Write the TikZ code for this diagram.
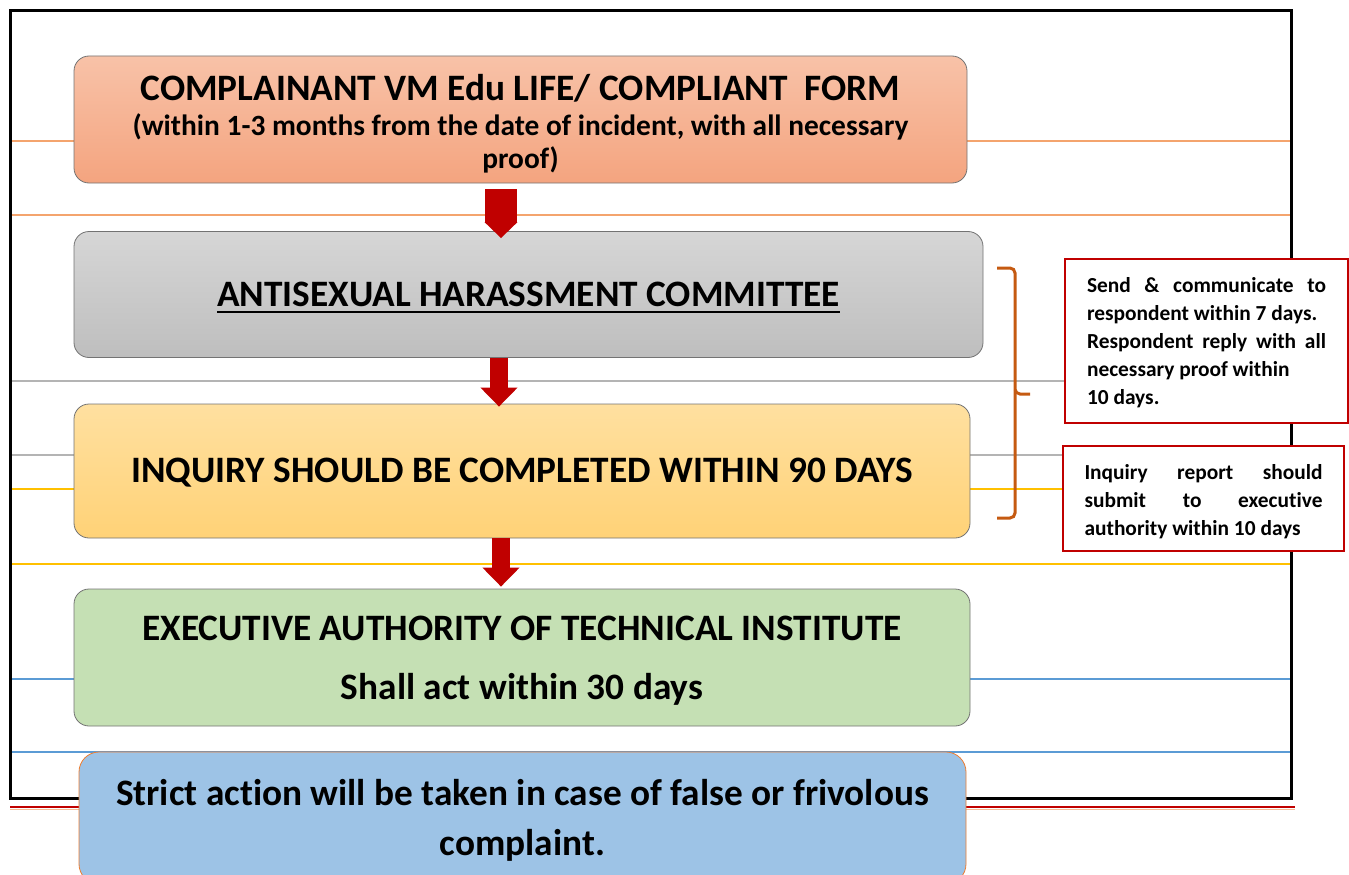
\documentclass[tikz,border=0pt]{standalone}
\usepackage{fontspec}
\setmainfont{Carlito}[Ligatures=NoCommon]
\newsavebox\myulbox
\newcommand{\myul}[1]{\sbox\myulbox{#1}\rlap{\rule[-7pt]{\wd\myulbox}{2pt}}\usebox\myulbox}
\usetikzlibrary{arrows.meta,calc}
\definecolor{arrred}{HTML}{C00000}
\definecolor{lorange}{HTML}{F4A46E}
\definecolor{lgray}{HTML}{B4B4B4}
\definecolor{lyellow}{HTML}{FFC000}
\definecolor{lblue}{HTML}{5B9BD5}
\definecolor{oneT}{HTML}{F8C2A8}
\definecolor{oneB}{HTML}{F4A47F}
\definecolor{twoT}{HTML}{D6D6D6}
\definecolor{twoB}{HTML}{BEBEBE}
\definecolor{thrT}{HTML}{FFE0A0}
\definecolor{thrB}{HTML}{FFD277}
\definecolor{fourF}{HTML}{C5E0B4}
\definecolor{fiveF}{HTML}{9DC3E6}
\definecolor{fiveD}{HTML}{ED7D31}
\definecolor{bracec}{HTML}{C55A11}
\tikzset{
  flowbox/.style={rounded corners=15pt, draw=black!55, line width=0.8pt, inner sep=0pt},
  boxtext/.style={align=center, inner sep=0pt},
  rbox/.style={draw=arrred, line width=2.5pt, fill=white, inner sep=0pt},
  rtext/.style={inner sep=0pt, align=left, font=\bfseries\fontsize{21.4}{28}\selectfont},
  guide/.style={line width=1.3pt},
  widearr/.style={arrred, line width=32pt, -{Triangle[width=32pt,length=16pt]}},
  slimarr/.style={arrred, line width=18pt, -{Triangle[width=36pt,length=19pt]}},
  bracestyle/.style={bracec, line width=3pt, rounded corners=5pt}
}
\begin{document}
\begin{tikzpicture}[x=1pt,y=-1pt]
\useasboundingbox (0,0) rectangle (1349,875);
\clip (0,0) rectangle (1349,875);
% guide lines
\foreach \yy/\cc in {141/lorange,215/lorange,381/lgray,455/lgray,489/lyellow,564/lyellow,679/lblue,752/lblue}
  \draw[guide,\cc] (10,\yy) -- (1290,\yy);
% frame
\draw[line width=3pt] (10,11) rectangle (1291,798);
\draw[arrred, line width=2pt] (10,807) -- (1295,807);
\draw[fiveD!50, line width=1pt] (10,809.5) -- (1295,809.5);
% boxes
\node[flowbox, top color=oneT, bottom color=oneB, minimum width=893pt, minimum height=127pt] (b1) at (520.5,119.5) {};
\node[boxtext, font=\bfseries\fontsize{29.4}{32.5}\selectfont] (t1) at ([yshift=-4pt]b1.center)
  {\fontsize{37.3}{40}\selectfont COMPLAINANT VM Edu LIFE/ COMPLIANT\ \ FORM\\[3pt]
   (within 1-3 months from the date of incident, with all necessary\\ proof)};
\node[flowbox, top color=twoT, bottom color=twoB, minimum width=909pt, minimum height=126pt] (b2) at (528.5,294.5) {};
\node[boxtext, font=\bfseries\fontsize{37.3}{40}\selectfont] (t2) at ([yshift=-3pt]b2.center)
  {\myul{ANTISEXUAL HARASSMENT COMMITTEE}};
\node[flowbox, top color=thrT, bottom color=thrB, minimum width=896pt, minimum height=134pt] (b3) at (522,471) {};
\node[boxtext, font=\bfseries\fontsize{37.3}{40}\selectfont] (t3) at ([yshift=-2pt]b3.center)
  {INQUIRY SHOULD BE COMPLETED WITHIN 90 DAYS};
\node[flowbox, fill=fourF, minimum width=896pt, minimum height=137pt] (b4) at (522,657.5) {};
\node[boxtext, font=\bfseries\fontsize{37.3}{59}\selectfont] (t4) at ([yshift=-3pt]b4.center)
  {EXECUTIVE AUTHORITY OF TECHNICAL INSTITUTE\\ Shall act within 30 days};
\node[flowbox, rounded corners=20pt, draw=fiveD, fill=fiveF, minimum width=887pt, minimum height=132pt] (b5) at (522.5,818) {};
\node[boxtext, font=\bfseries\fontsize{37.3}{50}\selectfont] (t5) at ([yshift=-2.5pt]b5.center)
  {Strict action will be taken in case of false or frivolous\\ complaint.};
% arrows
\draw[widearr] ([xshift=-19.5pt,yshift=-6pt]b1.south) -- ([xshift=-27.5pt,yshift=-7pt]b2.north);
\draw[slimarr] ([xshift=-29.5pt]b2.south) -- ([xshift=-23pt,yshift=-3pt]b3.north);
\draw[slimarr] ([xshift=-21pt]b3.south) -- ([xshift=-21pt,yshift=2pt]b4.north);
% brace
\draw[bracestyle] (997,268) -- (1015,268) -- (1015,394) -- (1030,394);
\draw[bracestyle] (1015,390) -- (1015,518) -- (997,518);
% right boxes
\node[rbox, minimum width=283pt, minimum height=164pt] (r1) at (1206.5,341) {};
\node[rtext] (rt1) at ([yshift=-1.5pt]r1.center)
  {\makebox[239pt][s]{Send \& communicate to}\\
   respondent within 7 days.\\
   \makebox[239pt][s]{Respondent reply with all}\\
   necessary proof within\\
   10 days.};
\node[rbox, minimum width=281pt, minimum height=105pt] (r2) at (1203.5,498.5) {};
\node[rtext] (rt2) at ([yshift=-3pt]r2.center)
  {\makebox[238pt][s]{Inquiry report should}\\
   \makebox[238pt][s]{submit to executive}\\
   authority within 10 days};
\end{tikzpicture}
\end{document}
